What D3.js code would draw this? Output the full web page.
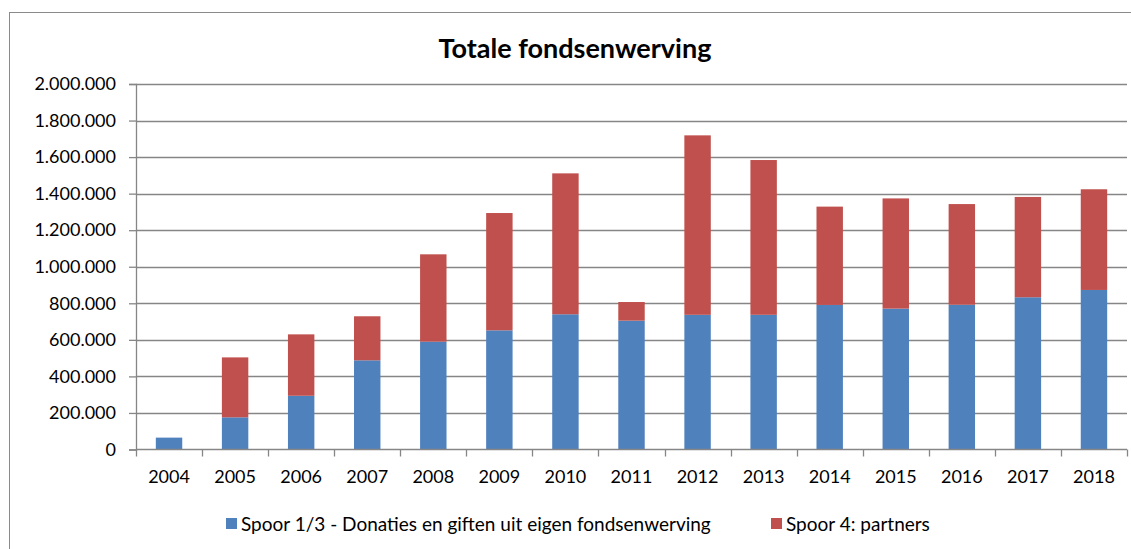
<!DOCTYPE html>
<html>
<head>
<meta charset="utf-8">
<script src="https://cdn.jsdelivr.net/npm/d3@7"></script>
<style>
  body { margin: 0; background: #fff; }
  svg { display: block; font-family: Lato, "Open Sans", sans-serif; }
</style>
</head>
<body>
<div id="chart"></div>
<script>
const years = ['2004', '2005', '2006', '2007', '2008', '2009', '2010', '2011', '2012', '2013', '2014', '2015', '2016', '2017', '2018'];
const spoor13 = [65000, 176000, 294000, 488000, 590000, 652000, 740000, 705000, 737000, 737000, 791000, 771000, 792000, 833000, 873000];
const spoor4 = [0, 328000, 336000, 241000, 478000, 642000, 771000, 102000, 982000, 847000, 538000, 603000, 551000, 549000, 551000];
const yTicks = [0, 200000, 400000, 600000, 800000, 1000000, 1200000, 1400000, 1600000, 1800000, 2000000];
const seriesNames = ['Spoor 1/3 - Donaties en giften uit eigen fondsenwerving', 'Spoor 4: partners'];
const colors = ['#4F81BD', '#C0504D'];

const svgWidth = 1131;
const svgHeight = 549;

const plot = { left: 136, right: 1127, top: 84, bottom: 449.5 };

const nl = d3.formatLocale({ decimal: ',', thousands: '.', grouping: [3], currency: ['€', ''] });
const fmt = nl.format(',');

const svg = d3.select('#chart').append('svg')
  .attr('width', svgWidth)
  .attr('height', svgHeight);

// chart border
svg.append('rect')
  .attr('x', 9.5)
  .attr('y', 12.5)
  .attr('width', 1200)
  .attr('height', 600)
  .attr('fill', 'none')
  .attr('stroke', '#8a8a8a')
  .attr('stroke-width', 1);

svg.append('text')
  .attr('x', 575)
  .attr('y', 58)
  .attr('text-anchor', 'middle')
  .attr('font-size', '27px')
  .attr('font-weight', 'bold')
  .attr('fill', '#000')
  .text('Totale fondsenwerving');

const xScale = d3.scaleBand()
  .domain(years)
  .range([plot.left, plot.right])
  .paddingInner(0.6)
  .paddingOuter(0.3);

const yScale = d3.scaleLinear()
  .domain([0, 2000000])
  .range([plot.bottom, plot.top]);

// gridlines
svg.append('g').selectAll('line')
  .data(yTicks.slice(1))
  .enter()
  .append('line')
  .attr('x1', plot.left)
  .attr('x2', plot.right)
  .attr('y1', d => Math.round(yScale(d)) + 0.5)
  .attr('y2', d => Math.round(yScale(d)) + 0.5)
  .attr('stroke', '#868686')
  .attr('stroke-width', 1.3);

// y axis
const leftAxis = d3.axisLeft(yScale)
  .tickValues(yTicks)
  .tickFormat(fmt)
  .tickSize(7)
  .tickPadding(13);

const yAxis = svg.append('g')
  .attr('transform', `translate(${plot.left},0)`)
  .call(leftAxis);
yAxis.select('.domain').attr('stroke', '#868686').attr('stroke-width', 1.3);
yAxis.selectAll('.tick line').attr('stroke', '#868686').attr('stroke-width', 1.3);
yAxis.selectAll('.tick text')
  .attr('font-family', 'Lato, sans-serif')
  .attr('font-size', '18px')
  .attr('fill', '#000');

// stacked bars
const table = years.map((y, i) => ({ year: y, spoor13: spoor13[i], spoor4: spoor4[i] }));
const stacked = d3.stack().keys(['spoor13', 'spoor4'])(table);

svg.append('g').selectAll('g')
  .data(stacked)
  .enter()
  .append('g')
  .attr('fill', (d, i) => colors[i])
  .selectAll('rect')
  .data(d => d)
  .enter()
  .append('rect')
  .attr('x', d => xScale(d.data.year))
  .attr('y', d => yScale(d[1]))
  .attr('width', xScale.bandwidth())
  .attr('height', d => yScale(d[0]) - yScale(d[1]));

// x axis
const step = xScale.step();
const boundaries = d3.range(years.length + 1).map(i => plot.left + i * step);

const xAxis = svg.append('g');
xAxis.append('line')
  .attr('x1', plot.left)
  .attr('x2', plot.right)
  .attr('y1', plot.bottom)
  .attr('y2', plot.bottom)
  .attr('stroke', '#868686')
  .attr('stroke-width', 1.3);
xAxis.selectAll('.xtick')
  .data(boundaries)
  .enter()
  .append('line')
  .attr('class', 'xtick')
  .attr('x1', d => Math.round(d) + 0.5)
  .attr('x2', d => Math.round(d) + 0.5)
  .attr('y1', plot.bottom)
  .attr('y2', plot.bottom + 7)
  .attr('stroke', '#868686')
  .attr('stroke-width', 1.3);
xAxis.selectAll('text')
  .data(years)
  .enter()
  .append('text')
  .attr('x', d => xScale(d) + xScale.bandwidth() / 2)
  .attr('y', 483)
  .attr('text-anchor', 'middle')
  .attr('font-size', '18px')
  .attr('fill', '#000')
  .text(d => d);

// legend
const legendItems = [
  { name: seriesNames[0], color: colors[0], x: 226 },
  { name: seriesNames[1], color: colors[1], x: 771 }
];
const legend = svg.append('g');
legend.selectAll('rect')
  .data(legendItems)
  .enter()
  .append('rect')
  .attr('x', d => d.x)
  .attr('y', 518)
  .attr('width', 11)
  .attr('height', 11)
  .attr('fill', d => d.color);
legend.selectAll('text')
  .data(legendItems)
  .enter()
  .append('text')
  .attr('x', d => d.x + 15)
  .attr('y', 530.5)
  .attr('font-size', '19px')
  .attr('fill', '#000')
  .text(d => d.name);
</script>
</body>
</html>
